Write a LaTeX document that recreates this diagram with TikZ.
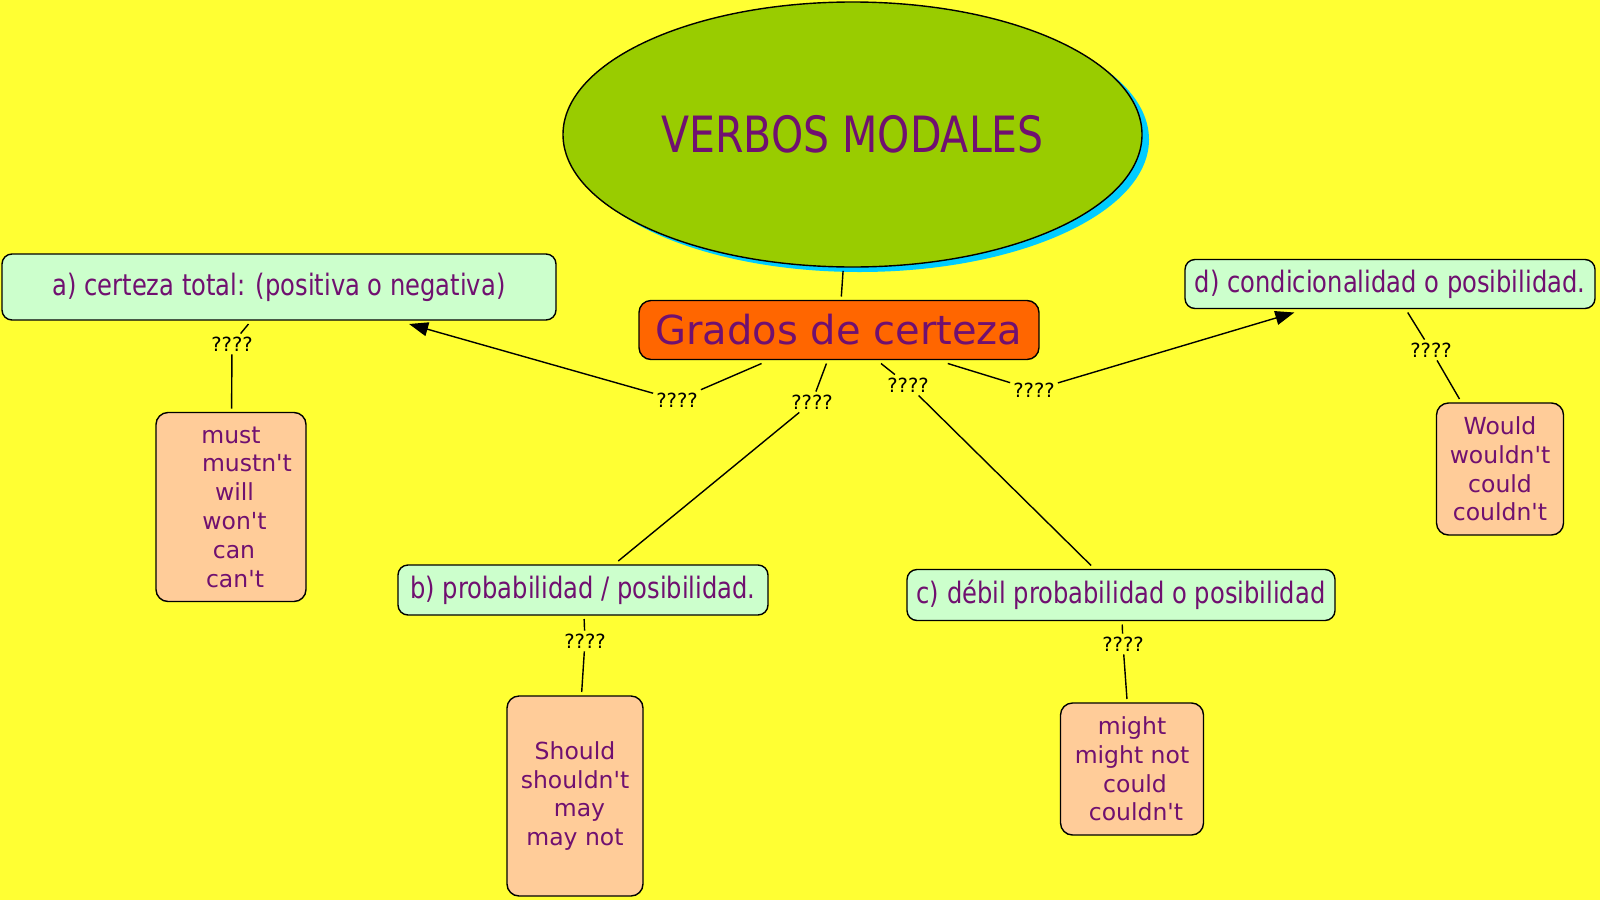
\documentclass[tikz,border=0pt]{standalone}
\usepackage{fontspec}
\setmainfont{DejaVu Sans}[Ligatures=TeXOff]
\newfontfamily\narrowfont{DejaVu Sans}[FakeStretch=0.82,Ligatures=TeXOff]
\usetikzlibrary{shapes.geometric,arrows.meta}
\definecolor{bgyellow}{HTML}{FFFF33}
\definecolor{ellgreen}{HTML}{99CC00}
\definecolor{shadowcyan}{HTML}{00CCFF}
\definecolor{txtpurple}{RGB}{112,16,112}
\definecolor{boxgreen}{HTML}{CCFFCC}
\definecolor{boxpeach}{HTML}{FFCC99}
\definecolor{boxorange}{HTML}{FF6600}
\begin{document}
\begin{tikzpicture}[x=1pt,y=-1pt,
  concept/.style={draw=black, line width=1.4pt, rounded corners=10pt, inner sep=0pt, outer sep=4pt, text=txtpurple},
  greenbox/.style={concept, fill=boxgreen, font=\narrowfont\fontsize{29.5}{35}\selectfont},
  peachbox/.style={concept, fill=boxpeach, rounded corners=12pt, align=center, font=\fontsize{23.5}{28.8}\selectfont},
  linklabel/.style={inner sep=3pt, font=\fontsize{19.5}{22}\selectfont, text=black},
  conn/.style={line width=1.4pt, draw=black},
  arr/.style={conn, -{Triangle[length=19pt,width=14pt]}}
]
\fill[bgyellow] (0,0) rectangle (1600,900);
\useasboundingbox (0,0) rectangle (1600,900);

% main ellipse with shadow
\node[ellipse, fill=shadowcyan, minimum width=579pt, minimum height=265pt, inner sep=0pt] (shadow) at (859.5,139.5) {};
\node[ellipse, draw=black, line width=1.4pt, fill=ellgreen, minimum width=579pt, minimum height=265pt, inner sep=0pt, outer sep=4pt, text=txtpurple, font=\narrowfont\fontsize{50}{60}\selectfont] (top) at (852.5,134.5) {VERBOS MODALES};

% central concept
\node[concept, fill=boxorange, rounded corners=12pt, minimum width=400pt, minimum height=59pt, font=\fontsize{40}{48}\selectfont] (grados) at (839,330) {Grados de certeza};

% green concepts
\node[greenbox, minimum width=554pt, minimum height=66pt] (ca) at (279,287) {a) certeza total: (positiva o negativa)};
\node[greenbox, minimum width=410pt, minimum height=49pt] (cd) at (1390,284) {d) condicionalidad o posibilidad.};
\node[greenbox, minimum width=370pt, minimum height=50pt] (cb) at (583,590) {b) probabilidad / posibilidad.};
\node[greenbox, minimum width=428pt, minimum height=51pt] (cc) at (1121,595) {c) débil probabilidad o posibilidad};

% peach concepts
\node[peachbox, minimum width=150pt, minimum height=189pt] (pa) at (231,507) {must\\\hspace*{32pt}mustn't\\\hspace*{7pt}will\\\hspace*{7pt}won't\\\hspace*{6pt}can\\\hspace*{8pt}can't};
\node[peachbox, minimum width=136pt, minimum height=200pt] (pb) at (575,796) {Should\\shouldn't\\\hspace*{9pt}may\\may not};
\node[peachbox, minimum width=143pt, minimum height=132pt] (pc) at (1132,769) {might\\might not\\\hspace*{6pt}could\\\hspace*{8pt}couldn't};
\node[peachbox, minimum width=127pt, minimum height=132pt] (pd) at (1500,469) {Would\\wouldn't\\could\\couldn't};

% linking phrases
\node[linklabel] (l1) at (232,344) {????};
\node[linklabel] (l2) at (677,400) {????};
\node[linklabel] (l3) at (812,402) {????};
\node[linklabel] (l4) at (908,385) {????};
\node[linklabel] (l5) at (1034,390) {????};
\node[linklabel] (l6) at (585,641) {????};
\node[linklabel] (l7) at (1123,644) {????};
\node[linklabel] (l8) at (1431,350) {????};

% connectors
\draw[conn] (top) -- (grados);
\draw[conn] (ca) -- (l1);
\draw[conn] (l1) -- (pa);
\draw[conn] (grados) -- (l2);
\draw[arr] (l2) -- (ca);
\draw[conn] (grados) -- (l3);
\draw[conn] (l3) -- (cb);
\draw[conn] (grados) -- (l4);
\draw[conn] (l4) -- (cc);
\draw[conn] (grados) -- (l5);
\draw[arr] (l5) -- (cd);
\draw[conn] (cb) -- (l6);
\draw[conn] (l6) -- (pb);
\draw[conn] (cc) -- (l7);
\draw[conn] (l7) -- (pc);
\draw[conn] (cd) -- (l8);
\draw[conn] (l8) -- (pd);
\end{tikzpicture}
\end{document}
